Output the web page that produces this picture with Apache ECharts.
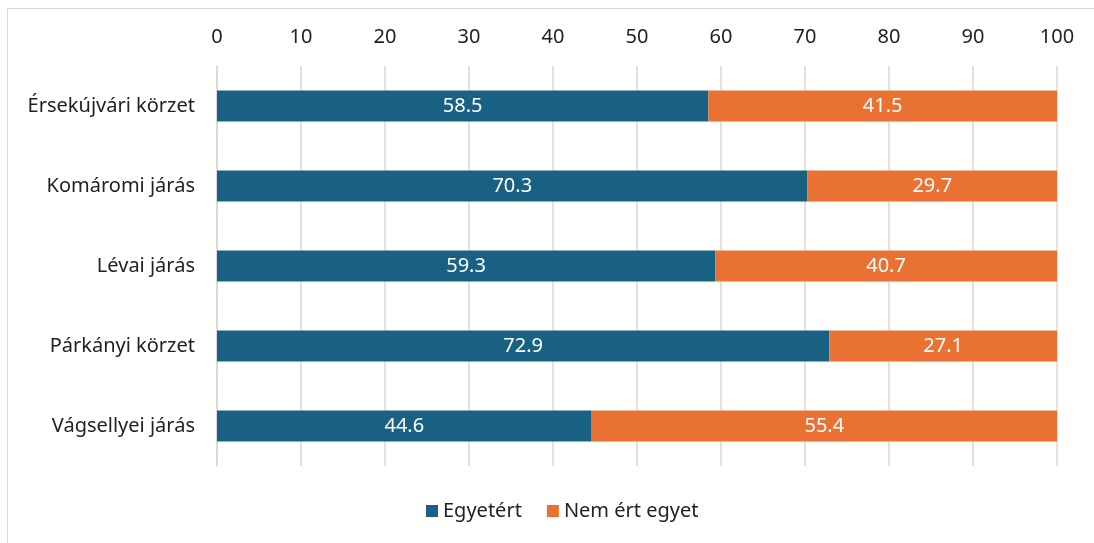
<!DOCTYPE html>
<html>
<head>
<meta charset="utf-8">
<script src="https://cdn.jsdelivr.net/npm/echarts@6/dist/echarts.min.js"></script>
<style>
  html, body { margin: 0; padding: 0; background: #fff; }
  #frame { position: absolute; left: 7px; top: 8px; width: 1100px; height: 540px; border-left: 1px solid #d9d9d9; border-top: 1px solid #d9d9d9; }
  #chart { position: absolute; left: 0; top: 0; width: 1094px; height: 543px; }
</style>
</head>
<body>
<div id="frame"></div>
<div id="chart"></div>
<script>
const categories = ['Érsekújvári körzet', 'Komáromi járás', 'Lévai járás', 'Párkányi körzet', 'Vágsellyei járás']
const agree = [58.5, 70.3, 59.3, 72.9, 44.6]
const disagree = [41.5, 29.7, 40.7, 27.1, 55.4]
const seriesNames = ['Egyetért', 'Nem ért egyet']

const font = '"Noto Sans", sans-serif'
const myChart = echarts.init(document.getElementById('chart'))

const barLabel = {
  show: true,
  position: 'inside',
  color: '#fff',
  fontSize: 20,
  fontFamily: font,
  formatter: (p) => p.value.toFixed(1),
}

const option = {
  animation: false,
  textStyle: { fontFamily: font },
  grid: {
    top: 66,
    left: 217,
    right: 37,
    height: 400,
  },
  legend: {
    data: seriesNames,
    bottom: 17,
    left: 421,
    icon: 'rect',
    itemWidth: 12,
    itemHeight: 12,
    itemGap: 25,
    itemTextGap: 6,
    textStyle: { color: '#222', fontSize: 20, fontFamily: font },
  },
  xAxis: {
    type: 'value',
    position: 'top',
    min: 0,
    max: 100,
    interval: 10,
    axisLine: { show: false },
    axisTick: { show: false },
    axisLabel: { color: '#222', fontSize: 20, margin: 19, fontFamily: font },
    splitLine: { show: true, lineStyle: { color: '#d9d9d9', width: 1.5 } },
  },
  yAxis: {
    type: 'category',
    inverse: true,
    data: categories,
    axisLine: { show: true, lineStyle: { color: '#d9d9d9', width: 1.5 } },
    axisTick: { show: false },
    axisLabel: { color: '#222', fontSize: 20, margin: 22, fontFamily: font },
  },
  series: [
    {
      name: seriesNames[0],
      type: 'bar',
      stack: 'total',
      barWidth: 31,
      data: agree,
      itemStyle: { color: '#196183' },
      label: barLabel,
    },
    {
      name: seriesNames[1],
      type: 'bar',
      stack: 'total',
      barWidth: 31,
      data: disagree,
      itemStyle: { color: '#e97232' },
      label: barLabel,
    },
  ],
}
myChart.setOption(option, true)
</script>
</body>
</html>
